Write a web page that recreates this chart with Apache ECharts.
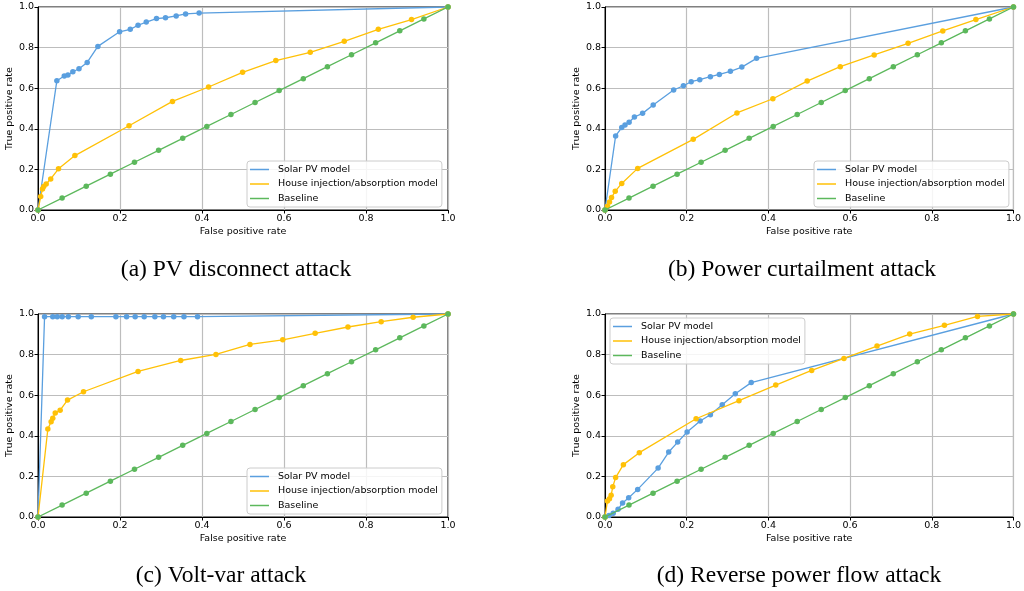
<!DOCTYPE html>
<html>
<head>
<meta charset="utf-8">
<script src="https://cdn.jsdelivr.net/npm/echarts@6/dist/echarts.min.js"></script>
<style>
  html, body { margin: 0; padding: 0; background: #fff; }
  #roc { width: 1024px; height: 591px; }
</style>
</head>
<body>
<div id="roc"></div>
<script>
// series names + captions
const seriesNames = ['Solar PV model', 'House injection/absorption model', 'Baseline'];
const captions = ['(a) PV disconnect attack', '(b) Power curtailment attack', '(c) Volt-var attack', '(d) Reverse power flow attack'];
const tickLabels = ['0.0', '0.2', '0.4', '0.6', '0.8', '1.0'];

// baseline (random guess) — same in every panel
const baseline = [[0, 0], [0.0588, 0.0588], [0.1176, 0.1176], [0.1765, 0.1765], [0.2353, 0.2353], [0.2941, 0.2941],
  [0.3529, 0.3529], [0.4118, 0.4118], [0.4706, 0.4706], [0.5294, 0.5294], [0.5882, 0.5882], [0.6471, 0.6471],
  [0.7059, 0.7059], [0.7647, 0.7647], [0.8235, 0.8235], [0.8824, 0.8824], [0.9412, 0.9412], [1, 1]];

// (a) PV disconnect
const aSolar = [[0, 0], [0.046, 0.637], [0.064, 0.66], [0.073, 0.665], [0.085, 0.681], [0.1, 0.696], [0.12, 0.727],
  [0.146, 0.806], [0.199, 0.878], [0.225, 0.89], [0.244, 0.91], [0.264, 0.926], [0.289, 0.943], [0.311, 0.947],
  [0.337, 0.956], [0.36, 0.966], [0.393, 0.97], [1, 1]];
const aHouse = [[0, 0], [0.0066, 0.066], [0.011, 0.103], [0.014, 0.116], [0.02, 0.128], [0.031, 0.153], [0.05, 0.203],
  [0.09, 0.268], [0.222, 0.415], [0.328, 0.535], [0.416, 0.606], [0.499, 0.678], [0.58, 0.736], [0.664, 0.777],
  [0.747, 0.831], [0.83, 0.89], [0.911, 0.938], [1, 1]];

// (b) power curtailment
const bSolar = [[0, 0], [0.026, 0.365], [0.041, 0.406], [0.049, 0.419], [0.059, 0.432], [0.072, 0.458], [0.092, 0.476],
  [0.118, 0.517], [0.168, 0.591], [0.192, 0.612], [0.211, 0.632], [0.232, 0.642], [0.258, 0.657], [0.28, 0.668],
  [0.307, 0.683], [0.335, 0.704], [0.371, 0.747], [1, 1]];
const bHouse = [[0, 0], [0.006, 0.018], [0.011, 0.04], [0.016, 0.062], [0.025, 0.092], [0.041, 0.131], [0.08, 0.205],
  [0.216, 0.348], [0.323, 0.478], [0.411, 0.548], [0.495, 0.635], [0.576, 0.706], [0.659, 0.764], [0.742, 0.821],
  [0.827, 0.882], [0.908, 0.938], [1, 1]];

// (c) volt-var
const cSolar = [[0, 0], [0.016, 0.987], [0.036, 0.987], [0.047, 0.987], [0.059, 0.987], [0.074, 0.987], [0.098, 0.987],
  [0.13, 0.987], [0.19, 0.987], [0.216, 0.987], [0.237, 0.987], [0.259, 0.987], [0.285, 0.987], [0.306, 0.987],
  [0.331, 0.987], [0.356, 0.987], [0.389, 0.987], [1, 1]];
const cHouse = [[0, 0], [0.024, 0.433], [0.032, 0.469], [0.036, 0.487], [0.042, 0.512], [0.054, 0.526], [0.072, 0.576],
  [0.111, 0.617], [0.244, 0.717], [0.348, 0.771], [0.434, 0.801], [0.517, 0.85], [0.597, 0.873], [0.676, 0.905],
  [0.756, 0.936], [0.837, 0.962], [0.915, 0.984], [1, 1]];

// (d) reverse power flow
const dSolar = [[0, 0], [0.01, 0.008], [0.02, 0.018], [0.032, 0.038], [0.043, 0.069], [0.058, 0.095], [0.08, 0.136],
  [0.13, 0.241], [0.156, 0.32], [0.178, 0.369], [0.201, 0.419], [0.233, 0.473], [0.258, 0.504], [0.287, 0.553],
  [0.319, 0.607], [0.358, 0.662], [1, 1]];
const dHouse = [[0, 0], [0.006, 0.079], [0.011, 0.09], [0.015, 0.107], [0.019, 0.149], [0.026, 0.194], [0.045, 0.258],
  [0.084, 0.317], [0.223, 0.484], [0.328, 0.573], [0.418, 0.65], [0.506, 0.722], [0.585, 0.781], [0.666, 0.842],
  [0.746, 0.901], [0.831, 0.944], [0.912, 0.988], [1, 1]];

const colors = ['#5a9fdf', '#ffc107', '#5cb85c'];
const font = 'DejaVu Sans';

// panel boxes (px) + where the legend sits + caption centre
const panels = [
  { grid: { left: 38, top: 7, width: 410, height: 203 }, legend: { left: 247, top: 161 }, cap: [236, 270], data: [aSolar, aHouse] },
  { grid: { left: 605, top: 7, width: 411, height: 203 }, legend: { left: 814, top: 161 }, cap: [802, 270], data: [bSolar, bHouse] },
  { grid: { left: 38, top: 314, width: 410, height: 203 }, legend: { left: 247, top: 468 }, cap: [221, 576], data: [cSolar, cHouse] },
  { grid: { left: 605, top: 314, width: 411, height: 203 }, legend: { left: 610, top: 318 }, cap: [799, 576], data: [dSolar, dHouse] }
];

const grids = [], xAxes = [], yAxes = [], legends = [], series = [], graphics = [];

function axisBase(i) {
  return {
    type: 'value', min: 0, max: 1, interval: 0.2,
    gridIndex: i,
    nameLocation: 'middle',
    nameTextStyle: { fontFamily: font, fontSize: 9.5, color: '#000' },
    axisLine: { show: true, lineStyle: { color: '#000', width: 1 } },
    axisTick: { show: true, length: 3.5, lineStyle: { color: '#000' } },
    axisLabel: {
      fontFamily: font, fontSize: 9.5, color: '#000', margin: 4,
      formatter: v => tickLabels[Math.round(v * 5)]
    },
    splitLine: { show: true, lineStyle: { color: '#bdbdbd', width: 1.2 } }
  };
}

panels.forEach((p, i) => {
  grids.push(Object.assign({ show: true, borderColor: '#000', borderWidth: 1, backgroundColor: 'transparent' }, p.grid));
  xAxes.push(Object.assign(axisBase(i), { name: 'False positive rate', nameGap: 17 }));
  yAxes.push(Object.assign(axisBase(i), { name: 'True positive rate', nameGap: 21 }));

  legends.push({
    orient: 'vertical',
    left: p.legend.left, top: p.legend.top,
    padding: [3, 4, 3, 3],
    itemGap: 3.5,
    itemWidth: 19, itemHeight: 1.5,
    icon: 'rect',
    backgroundColor: 'rgba(255,255,255,0.85)',
    borderColor: '#cccccc', borderWidth: 1, borderRadius: 3,
    textStyle: { fontFamily: font, fontSize: 9.5, color: '#000', lineHeight: 11, padding: [0, 0, 0, 4] },
    data: seriesNames,
    selectedMode: false
  });

  const sets = [p.data[0], p.data[1], baseline];
  sets.forEach((d, k) => {
    series.push({
      name: seriesNames[k],
      type: 'line',
      xAxisIndex: i, yAxisIndex: i,
      data: d,
      symbol: 'circle', symbolSize: 5.5,
      showSymbol: true,
      color: colors[k],
      lineStyle: { color: colors[k], width: 1.3 },
      itemStyle: { color: colors[k] },
      animation: false,
      z: 2 + k
    });
  });

  graphics.push({
    type: 'text',
    x: p.cap[0], y: p.cap[1],
    style: {
      text: captions[i],
      font: '23.5px "Liberation Serif"',
      fill: '#000',
      textAlign: 'center',
      textVerticalAlign: 'middle'
    }
  });
});

const myChart = echarts.init(document.getElementById('roc'));
myChart.setOption({
  animation: false,
  grid: grids,
  xAxis: xAxes,
  yAxis: yAxes,
  legend: legends,
  series: series,
  graphic: graphics
});
</script>
</body>
</html>
